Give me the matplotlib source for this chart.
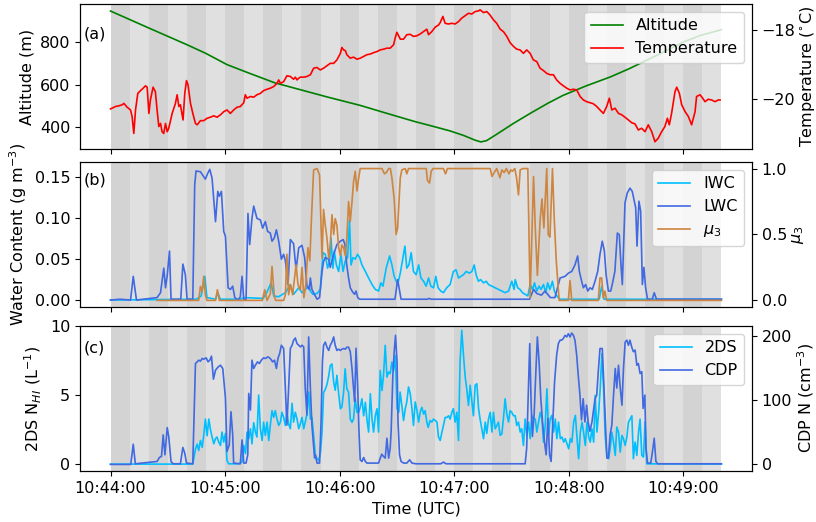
import numpy as np
import matplotlib.pyplot as plt
from matplotlib.ticker import FuncFormatter

# all times are seconds after 10:44:00 UTC

# (a) altitude (m) and temperature (degC)
alt_t = np.array([0, 20, 40, 50, 61, 72, 86, 96, 113, 131, 143, 159, 168, 178, 185, 191, 194, 197, 202,
                  211, 220, 229, 237, 249, 262, 272, 281, 290, 300, 309, 320])
alt = np.array([943, 864, 786, 745, 693, 655, 608, 584, 543, 502, 470, 428, 407, 383, 362, 340, 332, 338, 366,
                418, 466, 512, 549, 593, 636, 675, 714, 753, 798, 829, 856])

temp_t = np.array([0, 2.6, 4.4, 6.1, 7.0, 8.7, 10.5, 11.3, 12.2, 13.1, 14.3, 15.7, 17.1, 18.3, 19.2, 20.1,
                   20.9, 22.3, 23.5, 24.4, 25.3, 26.2, 27.0, 27.9, 28.8, 29.7, 30.5, 32.3, 34.0, 34.9, 35.8,
                   36.6, 38.0, 38.9, 39.8, 40.6, 41.9, 43.3, 44.5, 45.4, 47.1, 48.8, 50.6, 52.3, 54.1, 55.8,
                   57.6, 59.3, 61.0, 62.8, 64.5, 66.3, 68.0, 69.8, 70.6, 71.5, 73.3, 75.0, 76.7, 78.5, 80.2,
                   82.0, 83.7, 85.5, 87.2, 88.1, 89.0, 90.7, 92.4, 94.2, 95.9, 96.8, 97.7, 98.6, 99.4, 101.2,
                   102.9, 104.7, 106.4, 108.1, 109.9, 111.6, 113.4, 115.1, 116.9, 118.6, 120.4, 121.2, 122.1,
                   123.0, 123.8, 125.6, 127.3, 129.1, 130.8, 132.6, 134.3, 136.1, 137.8, 139.5, 141.3, 143.0,
                   144.8, 146.5, 148.3, 149.1, 150.0, 151.8, 153.5, 155.2, 157.0, 158.7, 160.5, 162.2, 164.0,
                   165.7, 166.6, 168.3, 170.1, 171.8, 172.7, 174.1, 175.3, 177.0, 178.8, 180.5, 182.3, 184.0,
                   185.8, 187.5, 189.3, 191.0, 192.8, 193.6, 195.4, 197.1, 198.8, 200.6, 202.3, 204.1, 205.8,
                   207.6, 209.3, 211.1, 212.8, 214.5, 216.3, 218.0, 219.8, 221.5, 223.3, 225.0, 226.8, 228.5,
                   230.3, 232.0, 233.7, 235.5, 237.2, 239.0, 240.7, 242.5, 244.2, 246.0, 247.7, 249.4, 251.2,
                   252.9, 254.7, 256.4, 258.2, 259.9, 261.3, 262.6, 264.3, 266.1, 267.8, 269.5, 271.3, 273.0,
                   274.7, 276.5, 278.2, 280.0, 281.7, 283.5, 285.2, 286.9, 288.7, 290.4, 291.7, 292.7, 293.9,
                   295.7, 296.6, 298.0, 299.2, 301.0, 302.7, 304.4, 306.2, 307.0, 308.8, 310.2, 311.4, 313.1,
                   314.9, 316.6, 318.4, 319.3])
temp = np.array([-20.29, -20.22, -20.20, -20.17, -20.13, -20.24, -20.32, -20.51, -21.00, -20.32, -19.84,
                 -19.76, -19.69, -19.62, -19.66, -20.42, -20.03, -19.66, -19.79, -20.32, -20.80, -20.71,
                 -20.95, -21.00, -20.71, -20.95, -20.85, -20.42, -20.13, -19.88, -20.22, -20.17, -20.61,
                 -19.84, -19.47, -19.59, -20.13, -20.46, -20.71, -20.75, -20.63, -20.63, -20.56, -20.53,
                 -20.49, -20.53, -20.46, -20.37, -20.32, -20.42, -20.32, -20.24, -20.22, -20.11, -19.88,
                 -19.98, -19.93, -19.95, -19.88, -19.84, -19.76, -19.72, -19.69, -19.64, -19.55, -19.45,
                 -19.55, -19.50, -19.33, -19.35, -19.43, -19.37, -19.45, -19.40, -19.37, -19.37, -19.35,
                 -19.30, -19.11, -19.09, -19.16, -19.11, -19.04, -18.97, -18.97, -18.87, -18.68, -18.51,
                 -18.58, -18.60, -18.72, -18.82, -18.79, -18.85, -18.82, -18.77, -18.72, -18.70, -18.66,
                 -18.63, -18.58, -18.56, -18.53, -18.53, -18.43, -18.24, -18.07, -18.27, -18.27, -18.14,
                 -18.13, -18.19, -18.17, -18.12, -18.05, -17.98, -18.14, -18.05, -17.92, -17.86, -17.79,
                 -17.61, -17.81, -17.83, -17.81, -17.83, -17.76, -17.66, -17.59, -17.52, -17.54, -17.47,
                 -17.45, -17.42, -17.50, -17.47, -17.57, -17.71, -17.81, -17.98, -18.05, -18.19, -18.37,
                 -18.48, -18.56, -18.58, -18.68, -18.58, -18.68, -18.87, -18.92, -19.11, -19.18, -19.26,
                 -19.30, -19.30, -19.45, -19.55, -19.62, -19.69, -19.74, -19.72, -19.74, -19.93, -20.03,
                 -20.08, -20.11, -20.14, -20.22, -20.32, -20.42, -20.22, -19.98, -20.32, -20.27, -20.42,
                 -20.46, -20.53, -20.61, -20.69, -20.72, -20.90, -20.85, -20.95, -20.75, -20.95, -21.24,
                 -21.14, -20.95, -20.80, -20.56, -20.75, -20.42, -19.79, -19.66, -19.84, -20.17, -20.37,
                 -20.51, -20.75, -20.37, -19.93, -19.88, -19.98, -20.08, -20.01, -20.03, -20.08, -20.03,
                 -20.03])

# (b) ice / liquid water content (g m-3) and mu3
iwc_t = np.array([0, 45, 47.5, 49.4, 50.5, 55, 56.2, 57.5, 68, 69.8, 80, 82, 84.1, 85.5, 88, 91.6, 94.2,
                  95.9, 98.6, 100.3, 101.7, 103.8, 104.7, 106.0, 108.2, 109.9, 111.3, 112.5, 113.7, 114.8,
                  115.5, 116.5, 117.2, 118.3, 119.5, 120.7, 121.8, 123.0, 124.2, 125.2, 126.0, 127.0, 128.2,
                  129.4, 130.5, 131.7, 133.5, 135.2, 137.0, 138.7, 140.4, 141.6, 142.7, 144.4, 146.2, 147.4,
                  148.6, 150.4, 151.8, 153.2, 154.2, 155.2, 156.3, 157.5, 158.7, 160.1, 161.4, 162.6, 164.0,
                  165.3, 166.6, 167.8, 169.2, 170.4, 171.6, 173.0, 174.4, 176.1, 177.9, 179.6, 181.0, 182.3,
                  183.5, 184.9, 186.3, 188.0, 189.3, 190.5, 191.5, 192.7, 193.9, 195.4, 196.8, 198.0, 199.7,
                  201.5, 203.2, 205.0, 206.7, 208.5, 210.2, 211.4, 212.0, 213.3, 214.5, 215.8, 217.2, 218.6,
                  219.8, 221.1, 222.1, 223.3, 224.5, 225.5, 226.8, 228.0, 229.0, 230.2, 231.5, 232.5, 233.8,
                  235.5, 256.0, 257.3, 258.5, 320])
iwc = np.array([0, 0.001, 0.005, 0.029, 0.003, 0.001, 0.009, 0.001, 0.001, 0.003, 0.002, 0.010, 0.021,
                0.005, 0.004, 0.009, 0.019, 0.007, 0.015, 0.009, 0.012, 0.017, 0.011, 0.007, 0.008, 0.013,
                0.058, 0.056, 0.039, 0.048, 0.076, 0.039, 0.060, 0.043, 0.035, 0.056, 0.035, 0.048, 0.052,
                0.098, 0.043, 0.052, 0.050, 0.056, 0.052, 0.043, 0.035, 0.027, 0.019, 0.013, 0.011, 0.021,
                0.017, 0.039, 0.054, 0.043, 0.029, 0.019, 0.033, 0.052, 0.066, 0.039, 0.043, 0.058, 0.035,
                0.031, 0.043, 0.027, 0.023, 0.017, 0.027, 0.017, 0.015, 0.029, 0.015, 0.011, 0.009, 0.015,
                0.019, 0.035, 0.037, 0.027, 0.029, 0.031, 0.035, 0.033, 0.035, 0.043, 0.031, 0.023, 0.025,
                0.021, 0.023, 0.019, 0.017, 0.015, 0.013, 0.011, 0.009, 0.011, 0.023, 0.013, 0.025, 0.015,
                0.013, 0.009, 0.007, 0.005, 0.019, 0.013, 0.021, 0.011, 0.017, 0.013, 0.019, 0.009, 0.021,
                0.013, 0.023, 0.011, 0.005, 0.001, 0.001, 0.017, 0.001, 0.001])

lwc_t = np.array([0, 5, 10.5, 11.9, 13.6, 24.4, 26.2, 27.9, 28.8, 29.7, 30.9, 31.7, 36.8, 37.9, 39.2, 40.1,
                  43.1, 44.1, 44.8, 47.1, 48.8, 49.7, 50.9, 52.0, 53.2, 55.0, 56.2, 57.0, 58.1, 59.3, 60.2,
                  61.6, 62.8, 64.0, 65.1, 66.8, 68.0, 68.9, 69.8, 71.0, 72.0, 72.9, 74.1, 75.0, 76.7, 78.5,
                  79.7, 81.1, 82.3, 83.7, 84.6, 85.8, 86.9, 88.1, 89.5, 90.7, 91.6, 93.0, 94.2, 95.9, 97.2,
                  98.6, 100.3, 101.7, 102.9, 104.1, 104.7, 105.5, 106.8, 108.2, 109.5, 110.8, 111.6, 112.5,
                  114.3, 115.1, 116.9, 118.6, 120.4, 121.9, 122.8, 123.7, 124.7, 125.6, 126.8, 127.9, 128.6,
                  129.5, 130.5, 149.0, 150.4, 152.2, 166.0, 167.0, 168.0, 219.5, 221.6, 223.3, 225.7, 227.6,
                  230.4, 232.8, 234.9, 235.5, 238.1, 239.9, 241.6, 243.3, 244.7, 245.6, 246.8, 247.7, 248.9,
                  250.0, 251.2, 252.4, 253.8, 255.2, 256.4, 257.6, 258.7, 259.6, 260.8, 262.0, 263.0, 264.2,
                  265.5, 266.5, 267.4, 268.1, 269.5, 270.7, 272.1, 273.3, 274.4, 275.1, 275.8, 276.8, 277.7,
                  278.6, 279.4, 280.3, 281.3, 283.8, 284.8, 286.0, 320])
lwc = np.array([0, 0.001, 0, 0.029, 0, 0.003, 0.009, 0.039, 0.015, 0.030, 0.060, 0.001, 0.001, 0.044, 0.031,
                0.001, 0.001, 0.141, 0.158, 0.157, 0.151, 0.148, 0.155, 0.160, 0.149, 0.096, 0.133, 0.127,
                0.133, 0.084, 0.078, 0.015, 0.013, 0.017, 0.003, 0, 0.004, 0.029, 0.001, 0, 0.106, 0.068,
                0.100, 0.115, 0.100, 0.098, 0.088, 0.096, 0.084, 0.082, 0.072, 0.076, 0.086, 0.072, 0.050,
                0.056, 0.048, 0.019, 0.074, 0.069, 0.037, 0.064, 0.067, 0.052, 0.017, 0.013, 0.027, 0.013,
                0.007, 0.001, 0.003, 0.035, 0.047, 0.052, 0.050, 0.040, 0.056, 0.068, 0.072, 0.074, 0.068,
                0.044, 0.027, 0.015, 0.010, 0.007, 0.011, 0.003, 0.001, 0.001, 0.025, 0.001, 0.001, 0.002,
                0.001, 0.001, 0.013, 0.008, 0.006, 0.011, 0.003, 0.003, 0.022, 0.027, 0.029, 0.033, 0.035,
                0.043, 0.054, 0.035, 0.023, 0.015, 0.019, 0.011, 0.015, 0.013, 0.023, 0.035, 0.056, 0.072,
                0.060, 0.031, 0.011, 0.011, 0.021, 0.035, 0.082, 0.080, 0.043, 0.019, 0.119, 0.131, 0.137,
                0.133, 0.121, 0.113, 0.066, 0.121, 0.109, 0.019, 0.040, 0.015, 0.001, 0.001, 0.009, 0.001,
                0.001])

mu3_t = np.array([24.4, 46.2, 47.1, 48.0, 48.8, 49.7, 50.5, 55.0, 56.0, 57.0, 79.5, 80.8, 82.0, 83.7, 84.6,
                  85.8, 86.5, 90.7, 91.6, 92.4, 93.3, 94.2, 95.4, 97.2, 98.2, 99.4, 100.3, 101.3, 102.3,
                  103.4, 104.4, 105.4, 106.4, 108.2, 109.5, 110.8, 111.6, 112.5, 113.4, 114.3, 115.1, 116.0,
                  116.9, 117.7, 118.6, 119.5, 120.4, 121.2, 122.1, 123.0, 123.8, 124.7, 125.6, 126.5, 127.3,
                  128.2, 129.1, 130.0, 130.8, 142.2, 143.5, 144.5, 145.7, 146.6, 147.4, 148.6, 149.6, 150.4,
                  151.0, 151.8, 152.6, 154.4, 155.2, 156.1, 165.4, 166.0, 167.1, 168.0, 169.0, 174.4, 175.5,
                  176.5, 198.9, 199.8, 201.0, 202.3, 204.0, 205.0, 206.2, 207.4, 208.7, 209.7, 210.5, 211.8,
                  212.7, 213.7, 214.6, 216.0, 218.6, 219.8, 221.6, 222.5, 223.6, 225.0, 226.0, 227.0, 228.5,
                  229.3, 230.2, 231.5, 232.5, 233.5, 235.0, 239.8, 240.7, 241.6, 255.5, 256.4, 257.3, 258.1,
                  259.0, 259.9, 320])
mu3 = np.array([0, 0, 0.106, 0.068, 0.182, 0.043, 0, 0, 0.081, 0, 0, 0.081, 0, 0.05, 0.258, 0.03, 0, 0,
                0.043, 0.35, 0.043, 0.12, 0.043, 0.27, 0.12, 0.08, 0.25, 0.02, 0.12, 0.40, 0.30, 0.67, 0.99,
                1.0, 0.95, 0.32, 0.69, 0.57, 0.47, 0.32, 0.42, 0.65, 0.50, 0.62, 0.57, 0.40, 0.34, 0.42, 0.40,
                0.34, 0.47, 0.75, 0.60, 0.75, 0.90, 0.98, 0.83, 0.93, 1.0, 1.0, 0.96, 0.97, 1.0, 1.0, 0.93,
                0.77, 0.50, 0.55, 0.72, 0.93, 0.99, 1.0, 0.96, 1.0, 1.0, 0.91, 0.89, 0.98, 1.0, 1.0, 0.96,
                1.0, 1.0, 0.94, 0.97, 1.0, 0.93, 0.99, 0.97, 1.0, 0.96, 0.99, 0.98, 1.0, 0.93, 0.80, 0.99,
                1.0, 1.0, 0.02, 0.94, 0.55, 0.19, 0.60, 0.77, 0.55, 1.0, 0.50, 0.48, 1.0, 0.60, 0.30, 0, 0,
                0.15, 0, 0, 0.17, 0.17, 0.02, 0.07, 0, 0])

# (c) 2DS N_HI (L-1) and CDP N (cm-3)
n2ds_t = np.array([0, 43.1, 44.5, 45.4, 46.2, 47.1, 48.0, 48.8, 49.7, 50.6, 51.5, 52.3, 53.2, 54.1, 55.0,
                   55.8, 56.7, 57.6, 58.4, 59.3, 60.2, 61.0, 61.9, 67.2, 68.9, 69.8, 70.7, 71.5, 72.4, 73.3,
                   74.1, 75.0, 75.9, 76.7, 77.6, 78.5, 79.4, 80.2, 81.1, 82.0, 82.9, 83.7, 84.6, 85.5, 86.3,
                   87.2, 88.1, 89.0, 89.8, 90.7, 91.6, 92.4, 93.3, 94.2, 95.1, 95.9, 96.8, 97.7, 98.6, 99.4,
                   100.3, 101.2, 102.0, 102.9, 103.8, 104.7, 105.5, 106.4, 107.3, 108.2, 109.1, 110.0, 110.8,
                   111.6, 112.5, 113.4, 114.3, 115.1, 116.0, 116.9, 117.7, 118.6, 119.5, 120.4, 121.2, 122.1,
                   122.9, 123.8, 124.7, 125.6, 126.5, 127.3, 128.2, 129.1, 130.0, 130.8, 131.7, 132.6, 133.5,
                   134.3, 135.2, 136.1, 137.0, 137.8, 138.7, 139.6, 140.4, 141.3, 142.2, 143.0, 143.9, 144.8,
                   145.7, 146.5, 147.4, 148.3, 149.2, 150.1, 151.0, 151.7, 152.6, 153.5, 154.4, 155.2, 156.1,
                   157.0, 157.9, 158.7, 159.6, 160.5, 161.4, 162.2, 163.1, 164.0, 164.8, 165.7, 166.4, 167.4,
                   168.3, 169.2, 170.1, 171.0, 171.8, 172.7, 173.6, 174.4, 175.3, 176.2, 177.1, 177.9, 178.8,
                   179.6, 180.5, 181.4, 182.3, 183.1, 184.0, 184.9, 185.8, 186.6, 187.5, 188.4, 189.3, 190.1,
                   191.0, 191.9, 192.8, 193.6, 194.5, 195.4, 196.3, 197.1, 198.0, 198.9, 199.8, 200.6, 201.5,
                   202.4, 203.2, 204.1, 205.0, 205.8, 206.7, 207.6, 208.5, 209.3, 210.2, 211.1, 212.0, 212.8,
                   213.7, 214.6, 215.4, 216.3, 217.2, 218.1, 219.0, 219.8, 220.7, 221.6, 222.5, 223.3, 224.2,
                   225.1, 226.0, 226.8, 227.7, 228.6, 229.5, 230.3, 231.2, 232.1, 233.0, 233.8, 234.7, 235.6,
                   236.5, 237.4, 238.2, 239.1, 240.0, 240.9, 241.7, 242.6, 243.5, 244.3, 245.2, 246.1, 247.0,
                   247.8, 248.7, 249.6, 250.5, 251.3, 252.2, 253.1, 253.9, 254.8, 255.7, 256.5, 257.4, 258.3,
                   259.1, 260.0, 260.9, 261.7, 262.6, 263.5, 264.4, 265.2, 266.1, 267.0, 267.9, 268.7, 269.6,
                   270.5, 271.3, 272.2, 273.1, 273.9, 274.8, 275.7, 276.6, 277.4, 278.3, 279.2, 280.0, 280.9,
                   320])
n2ds = np.array([0, 0, 1.09, 1.45, 0.99, 1.71, 1.21, 2.05, 3.26, 2.05, 3.26, 2.54, 1.96, 1.47, 1.84, 1.96,
                 1.59, 1.35, 2.32, 1.59, 2.22, 0.27, 0.02, 0.02, 0.15, 1.35, 0.75, 2.32, 1.84, 2.56, 1.47,
                 3.0, 2.32, 1.96, 5.0, 2.56, 1.71, 3.04, 2.08, 3.04, 1.71, 2.80, 3.87, 3.38, 3.87, 3.26,
                 2.80, 3.04, 3.75, 3.38, 2.80, 3.75, 2.90, 2.56, 4.40, 3.04, 3.75, 3.26, 2.56, 2.90, 3.38,
                 2.56, 3.04, 3.62, 5.22, 3.26, 3.38, 2.08, 0.63, 0.39, 0.27, 0.87, 2.32, 5.17, 5.41, 5.77,
                 6.38, 7.13, 7.25, 5.94, 5.35, 6.43, 5.10, 4.01, 4.13, 5.22, 6.90, 5.45, 5.22, 3.26, 3.02,
                 3.26, 4.73, 3.75, 3.75, 4.11, 4.73, 3.50, 4.47, 3.26, 2.32, 5.10, 3.26, 2.32, 3.50, 4.01,
                 2.32, 6.78, 5.33, 6.43, 8.60, 6.30, 6.67, 6.55, 7.39, 6.78, 7.87, 4.01, 3.75, 5.22, 4.25,
                 3.16, 4.01, 4.50, 5.59, 5.10, 4.01, 2.80, 4.50, 3.90, 3.04, 3.75, 4.11, 3.62, 3.87, 3.04,
                 2.66, 3.16, 3.04, 3.26, 3.16, 3.04, 1.96, 1.71, 2.32, 2.80, 3.38, 3.38, 3.50, 3.26, 3.75,
                 4.01, 3.04, 3.75, 1.71, 7.39, 9.69, 7.87, 6.30, 5.45, 4.25, 5.71, 4.50, 3.50, 5.71, 5.82,
                 4.01, 3.26, 2.56, 1.84, 3.04, 2.22, 3.26, 3.75, 2.32, 3.75, 2.56, 2.80, 3.04, 2.08, 2.20,
                 3.26, 4.73, 3.62, 3.04, 3.87, 3.75, 3.50, 3.50, 2.80, 3.04, 2.32, 2.56, 1.35, 3.26, 2.08,
                 3.04, 1.84, 3.53, 3.26, 3.26, 2.32, 3.04, 3.75, 3.26, 1.59, 2.80, 5.45, 2.08, 3.26, 3.53,
                 2.32, 3.26, 1.84, 3.04, 1.84, 1.96, 1.59, 1.84, 1.47, 1.11, 1.84, 1.59, 3.04, 3.53, 2.08,
                 0.39, 2.32, 3.04, 2.32, 1.35, 3.04, 1.96, 1.59, 2.56, 1.59, 4.98, 2.32, 3.75, 5.45, 7.99,
                 5.45, 2.08, 0.63, 0.39, 1.11, 2.32, 1.59, 0.63, 2.68, 2.32, 0.87, 2.08, 1.84, 1.35, 1.96,
                 3.04, 3.26, 3.50, 0.39, 1.59, 0.63, 2.32, 3.26, 0.63, 0.51, 3.04, 0.02, 0])

cdp_t = np.array([0, 10.6, 11.9, 13.0, 24.4, 25.6, 26.7, 27.6, 28.5, 29.7, 30.5, 31.7, 32.8, 36.6, 37.9,
                  38.9, 39.8, 43.1, 44.5, 45.4, 46.2, 47.1, 48.0, 48.8, 50.1, 51.1, 52.0, 52.9, 53.9, 55.0,
                  56.4, 57.6, 58.8, 59.6, 60.2, 61.0, 62.2, 63.1, 64.0, 64.5, 68.0, 68.9, 69.8, 71.0, 71.9,
                  72.4, 73.3, 74.1, 75.0, 75.9, 77.0, 78.0, 79.0, 80.2, 81.1, 82.5, 83.7, 84.9, 85.9, 86.9,
                  87.7, 88.6, 89.5, 90.7, 91.6, 92.4, 93.3, 94.2, 95.1, 95.9, 96.8, 97.7, 98.6, 99.5, 100.3,
                  101.2, 102.0, 102.9, 103.8, 104.7, 105.5, 106.9, 107.3, 108.2, 109.5, 110.3, 111.0, 111.6,
                  112.5, 113.4, 114.3, 115.1, 116.0, 116.9, 117.7, 118.6, 119.5, 120.4, 121.2, 122.1, 123.0,
                  123.8, 124.7, 125.6, 126.5, 127.3, 127.9, 128.6, 129.5, 130.1, 130.8, 131.7, 132.6, 133.5,
                  134.3, 140.4, 141.3, 142.1, 143.0, 143.9, 144.8, 145.7, 146.5, 147.0, 147.9, 148.6, 149.3,
                  150.1, 150.6, 151.4, 152.2, 153.5, 155.2, 156.7, 157.9, 160.0, 173.0, 174.4, 175.8, 217.2,
                  218.0, 218.9, 219.6, 220.3, 221.0, 221.9, 222.8, 223.6, 224.5, 225.4, 226.3, 227.3, 228.2,
                  229.1, 230.0, 230.8, 231.7, 232.6, 233.7, 234.6, 235.5, 236.4, 237.2, 238.1, 239.0, 239.8,
                  240.7, 241.6, 242.5, 243.3, 244.2, 245.0, 245.9, 246.7, 247.6, 248.5, 249.4, 250.2, 251.1,
                  252.2, 253.8, 254.7, 255.5, 256.4, 257.6, 258.5, 259.2, 260.0, 260.8, 261.7, 262.6, 263.5,
                  264.4, 265.2, 266.1, 267.0, 267.9, 268.7, 269.6, 270.5, 271.3, 272.1, 273.0, 273.9, 274.8,
                  275.7, 276.5, 277.4, 278.3, 279.0, 279.9, 280.5, 281.3, 283.0, 283.9, 284.8, 285.7, 286.6,
                  320])
cdp = np.array([0, 0, 31.4, 1.0, 4.6, 10.8, 12.4, 45.9, 14.9, 57.2, 43.3, 4.6, 1.0, 1.0, 26.3, 17.5, 2.1,
                1.0, 156.7, 159.3, 161.9, 160.4, 164.5, 163.5, 165.5, 159.3, 161.9, 168.1, 132.4, 146.4,
                151.5, 154.1, 149.0, 123.2, 103.1, 20.1, 30.4, 81.9, 45.9, 2.1, 1.0, 38.1, 2.1, 2.1, 15.0,
                110.3, 84.5, 161.9, 149.0, 154.1, 159.3, 156.7, 161.9, 165.5, 164.5, 167.1, 164.5, 159.3,
                161.9, 149.0, 164.5, 172.2, 185.1, 180.0, 118.6, 61.2, 118.6, 180.0, 185.1, 192.8, 196.4,
                187.7, 185.1, 182.5, 185.1, 182.5, 118.6, 76.8, 198.0, 118.0, 61.0, 10.0, 15.0, 2.1, 2.1,
                66.0, 159.0, 185.0, 190.0, 182.0, 177.0, 185.0, 190.0, 198.0, 185.0, 177.0, 179.0, 177.0,
                179.0, 180.0, 179.0, 182.0, 182.0, 175.0, 149.0, 118.0, 97.5, 180.5, 118.0, 56.0, 7.2, 4.6,
                10.8, 4.6, 2.1, 2.1, 9.8, 16.0, 12.4, 9.8, 40.7, 9.8, 25.3, 51.5, 139.0, 175.0, 200.5, 159.0,
                66.0, 15.0, 4.6, 2.1, 2.1, 7.2, 2.1, 1.0, 1.0, 3.6, 1.0, 1.0, 25.3, 118.6, 187.7, 97.5, 43.3,
                76.8, 144.0, 198.0, 159.0, 102.0, 66.0, 35.6, 15.0, 71.6, 15.0, 4.6, 66.0, 128.0, 170.0,
                187.7, 193.0, 193.0, 195.6, 200.5, 198.0, 203.0, 198.0, 204.0, 200.5, 192.8, 169.6, 138.6,
                107.7, 69.2, 102.0, 66.0, 92.0, 66.0, 51.5, 66.0, 102.0, 107.7, 144.0, 180.0, 180.0, 118.6,
                66.0, 9.8, 9.8, 45.9, 61.2, 107.7, 149.0, 118.6, 154.0, 118.6, 92.0, 149.0, 190.0, 193.0,
                185.0, 193.0, 182.5, 175.0, 177.6, 154.0, 156.7, 141.3, 144.0, 87.0, 107.7, 25.0, 2.1, 2.1,
                20.0, 40.7, 4.6, 1.0, 1.0])

plt.rcParams['font.size'] = 11.5


# alternating 10 s grey bands
def shade(ax):
    for i, s in enumerate(range(0, 320, 10)):
        ax.axvspan(s, s + 10, color='#d3d3d3' if i % 2 == 0 else '#e0e0e0', lw=0, zorder=0)


def hms(x, pos):
    s = int(round(x)) + 10 * 3600 + 44 * 60
    return f'{s // 3600}:{s % 3600 // 60:02d}:{s % 60:02d}'


fig = plt.figure(figsize=(8.16, 5.22), dpi=100)
ax1 = fig.add_axes([0.098, 0.7146, 0.8235, 0.2778])
ax2 = fig.add_axes([0.098, 0.4119, 0.8235, 0.2778], sharex=ax1)
ax3 = fig.add_axes([0.098, 0.0977, 0.8235, 0.2778], sharex=ax1)
lw = 1.2

# (a)
shade(ax1)
l1, = ax1.plot(alt_t, alt, color='green', lw=lw, label='Altitude')
ax1.set_ylabel('Altitude (m)')
ax1.set_ylim(299, 976)
ax1.set_yticks([400, 600, 800])
ax1b = ax1.twinx()
l2, = ax1b.plot(temp_t, temp, color='red', lw=lw, label='Temperature')
ax1b.set_ylabel(r'Temperature ($^{\circ}$C)', labelpad=2)
ax1b.set_ylim(-21.45, -17.25)
ax1b.set_yticks([-20, -18])
ax1b.legend(handles=[l1, l2], loc='upper right')
ax1.text(0.005, 0.79, '(a)', transform=ax1.transAxes, va='center')

# (b)
shade(ax2)
l3, = ax2.plot(iwc_t, iwc, color='deepskyblue', lw=lw, label='IWC')
l4, = ax2.plot(lwc_t, lwc, color='royalblue', lw=lw, label='LWC')
ax2.set_ylabel(r'Water Content (g m$^{-3}$)')
ax2.set_ylim(-0.0085, 0.169)
ax2.set_yticks([0, 0.05, 0.10, 0.15])
ax2b = ax2.twinx()
l5, = ax2b.plot(mu3_t, mu3, color='peru', lw=lw, label=r'$\mu_3$')
ax2b.set_ylabel(r'$\mu_3$', labelpad=2)
ax2b.set_ylim(-0.05, 1.05)
ax2b.set_yticks([0, 0.5, 1.0])
ax2b.legend(handles=[l3, l4, l5], loc='upper right')
ax2.text(0.005, 0.878, '(b)', transform=ax2.transAxes, va='center')

# (c)
shade(ax3)
l6, = ax3.plot(n2ds_t, n2ds, color='deepskyblue', lw=lw, label='2DS')
ax3.set_ylabel(r'2DS N$_{HI}$ (L$^{-1}$)')
ax3.set_ylim(-0.5, 10)
ax3.set_yticks([0, 5, 10])
ax3b = ax3.twinx()
l7, = ax3b.plot(cdp_t, cdp, color='royalblue', lw=lw, label='CDP')
ax3b.set_ylabel(r'CDP N (cm$^{-3}$)', labelpad=2)
ax3b.set_ylim(-10.2, 215)
ax3b.set_yticks([0, 100, 200])
ax3b.legend(handles=[l6, l7], loc='upper right')
ax3.text(0.005, 0.848, '(c)', transform=ax3.transAxes, va='center')

ax3.set_xlim(-16, 336)
ax3.set_xticks(range(0, 301, 60))
ax3.xaxis.set_major_formatter(FuncFormatter(hms))
ax3.set_xlabel('Time (UTC)')
ax1.tick_params(labelbottom=False)
ax2.tick_params(labelbottom=False)

fig.savefig('out.png', dpi=100)
